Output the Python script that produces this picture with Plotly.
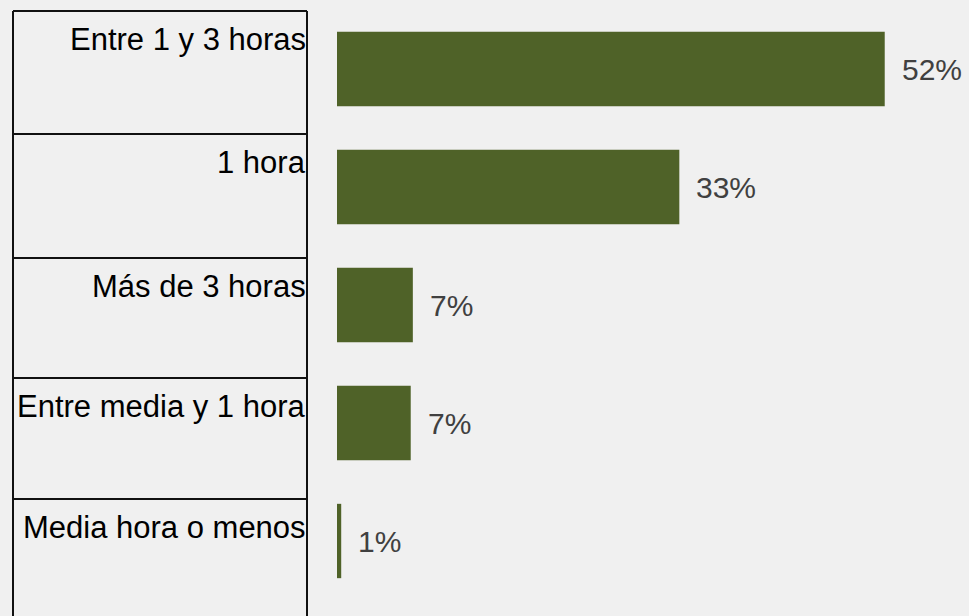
import plotly.graph_objects as go

categories = ["Entre 1 y 3 horas", "1 hora", "Más de 3 horas", "Entre media y 1 hora", "Media hora o menos"]
values = [52.0, 32.5, 7.2, 7.0, 0.4]
value_labels = ["52%", "33%", "7%", "7%", "1%"]

W, H = 969, 616
ML, MR, MT, MB = 337, 0, 10, 16
PW, PH = W - ML - MR, H - MT - MB

def px(x):
    return (x - ML) / PW

def py(y):
    return 1 - (y - MT) / PH

FONT = "Liberation Sans Narrow, Arial Narrow, Liberation Sans, Arial"

fig = go.Figure()
fig.add_trace(go.Bar(
    x=values, y=categories, orientation="h",
    marker=dict(color="#4F6228", line=dict(width=0)),
    width=0.63, hoverinfo="skip",
))

annotations = []
for c, v, t in zip(categories, values, value_labels):
    annotations.append(dict(x=v, y=c, xref="x", yref="y", text=t, showarrow=False,
                            xanchor="left", yanchor="middle", xshift=15,
                            font=dict(family=FONT, size=30, color="#404040")))

# table of category labels on the left
row_lines = [11, 134, 258, 378, 499, 622]
shapes = []
left, right = 13, 307
shapes.append(dict(type="line", xref="paper", yref="paper", x0=px(left), x1=px(left),
                   y0=py(row_lines[0]), y1=py(row_lines[-1]), line=dict(color="#111111", width=2)))
shapes.append(dict(type="line", xref="paper", yref="paper", x0=px(right), x1=px(right),
                   y0=py(row_lines[0]), y1=py(row_lines[-1]), line=dict(color="#111111", width=2)))
for yl in row_lines:
    shapes.append(dict(type="line", xref="paper", yref="paper", x0=px(left), x1=px(right),
                       y0=py(yl), y1=py(yl), line=dict(color="#111111", width=2)))
for i, c in enumerate(categories):
    annotations.append(dict(x=px(right + 1), y=py(row_lines[i] + 9), xref="paper", yref="paper",
                            text=c, showarrow=False, xanchor="right", yanchor="top",
                            font=dict(family=FONT, size=31, color="#000000")))

fig.update_layout(
    width=W, height=H,
    margin=dict(l=ML, r=MR, t=MT, b=MB),
    paper_bgcolor="#F0F0F0", plot_bgcolor="#F0F0F0",
    showlegend=False,
    xaxis=dict(range=[0, 60], visible=False, fixedrange=True),
    yaxis=dict(categoryorder="array", categoryarray=categories, autorange="reversed",
               visible=False, fixedrange=True),
    shapes=shapes, annotations=annotations,
    bargap=0.37,
)

fig.write_html("out.html", config={"displayModeBar": False},
               post_script="document.body.style.margin='0';document.body.style.background='#F0F0F0';document.body.style.overflow='hidden';")
